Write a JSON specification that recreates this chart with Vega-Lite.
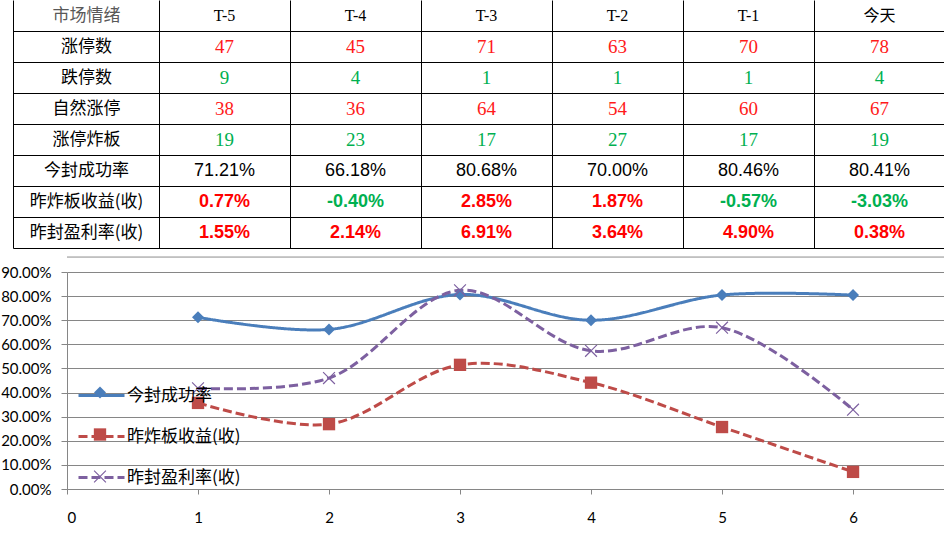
{
  "$schema": "https://vega.github.io/schema/vega-lite/v6.json",
  "padding": 0,
  "spacing": 24,
  "bounds": "flush",
  "background": "white",
  "config": {"view": {"stroke": null}},
  "datasets": {
    "table": [
      {"r": "涨停数", "c": "T-5", "t": "47"}, {"r": "涨停数", "c": "T-4", "t": "45"}, {"r": "涨停数", "c": "T-3", "t": "71"},
      {"r": "涨停数", "c": "T-2", "t": "63"}, {"r": "涨停数", "c": "T-1", "t": "70"}, {"r": "涨停数", "c": "今天", "t": "78"},
      {"r": "跌停数", "c": "T-5", "t": "9"}, {"r": "跌停数", "c": "T-4", "t": "4"}, {"r": "跌停数", "c": "T-3", "t": "1"},
      {"r": "跌停数", "c": "T-2", "t": "1"}, {"r": "跌停数", "c": "T-1", "t": "1"}, {"r": "跌停数", "c": "今天", "t": "4"},
      {"r": "自然涨停", "c": "T-5", "t": "38"}, {"r": "自然涨停", "c": "T-4", "t": "36"}, {"r": "自然涨停", "c": "T-3", "t": "64"},
      {"r": "自然涨停", "c": "T-2", "t": "54"}, {"r": "自然涨停", "c": "T-1", "t": "60"}, {"r": "自然涨停", "c": "今天", "t": "67"},
      {"r": "涨停炸板", "c": "T-5", "t": "19"}, {"r": "涨停炸板", "c": "T-4", "t": "23"}, {"r": "涨停炸板", "c": "T-3", "t": "17"},
      {"r": "涨停炸板", "c": "T-2", "t": "27"}, {"r": "涨停炸板", "c": "T-1", "t": "17"}, {"r": "涨停炸板", "c": "今天", "t": "19"},
      {"r": "今封成功率", "c": "T-5", "t": "71.21%"}, {"r": "今封成功率", "c": "T-4", "t": "66.18%"}, {"r": "今封成功率", "c": "T-3", "t": "80.68%"},
      {"r": "今封成功率", "c": "T-2", "t": "70.00%"}, {"r": "今封成功率", "c": "T-1", "t": "80.46%"}, {"r": "今封成功率", "c": "今天", "t": "80.41%"},
      {"r": "昨炸板收益(收)", "c": "T-5", "t": "0.77%"}, {"r": "昨炸板收益(收)", "c": "T-4", "t": "-0.40%"}, {"r": "昨炸板收益(收)", "c": "T-3", "t": "2.85%"},
      {"r": "昨炸板收益(收)", "c": "T-2", "t": "1.87%"}, {"r": "昨炸板收益(收)", "c": "T-1", "t": "-0.57%"}, {"r": "昨炸板收益(收)", "c": "今天", "t": "-3.03%"},
      {"r": "昨封盈利率(收)", "c": "T-5", "t": "1.55%"}, {"r": "昨封盈利率(收)", "c": "T-4", "t": "2.14%"}, {"r": "昨封盈利率(收)", "c": "T-3", "t": "6.91%"},
      {"r": "昨封盈利率(收)", "c": "T-2", "t": "3.64%"}, {"r": "昨封盈利率(收)", "c": "T-1", "t": "4.90%"}, {"r": "昨封盈利率(收)", "c": "今天", "t": "0.38%"}
    ],
    "header": [
      {"c": "T-5"}, {"c": "T-4"}, {"c": "T-3"}, {"c": "T-2"}, {"c": "T-1"}, {"c": "今天"}
    ],
    "series": [
      {"s": "今封成功率", "x": 1, "v": 0.7121}, {"s": "今封成功率", "x": 2, "v": 0.6618}, {"s": "今封成功率", "x": 3, "v": 0.8068},
      {"s": "今封成功率", "x": 4, "v": 0.7000}, {"s": "今封成功率", "x": 5, "v": 0.8046}, {"s": "今封成功率", "x": 6, "v": 0.8041},
      {"s": "昨炸板收益(收)", "x": 1, "v": 0.357}, {"s": "昨炸板收益(收)", "x": 2, "v": 0.269}, {"s": "昨炸板收益(收)", "x": 3, "v": 0.515},
      {"s": "昨炸板收益(收)", "x": 4, "v": 0.441}, {"s": "昨炸板收益(收)", "x": 5, "v": 0.257}, {"s": "昨炸板收益(收)", "x": 6, "v": 0.071},
      {"s": "昨封盈利率(收)", "x": 1, "v": 0.418}, {"s": "昨封盈利率(收)", "x": 2, "v": 0.460}, {"s": "昨封盈利率(收)", "x": 3, "v": 0.824},
      {"s": "昨封盈利率(收)", "x": 4, "v": 0.573}, {"s": "昨封盈利率(收)", "x": 5, "v": 0.669}, {"s": "昨封盈利率(收)", "x": 6, "v": 0.329}
    ],
    "frame": [{"top": 0.962}]
  },
  "vconcat": [
    {
      "width": 878,
      "height": 248,
      "data": {"name": "table"},
      "encoding": {
        "x": {
          "field": "c", "type": "nominal", "bandPosition": 0.5,
          "scale": {"type": "band", "domain": ["T-5", "T-4", "T-3", "T-2", "T-1", "今天"], "paddingInner": 0, "paddingOuter": 0.3512, "align": 1},
          "axis": {"title": null, "grid": true, "gridColor": "black", "gridWidth": 1, "bandPosition": 0, "labels": false, "ticks": false, "domain": false}
        },
        "y": {
          "field": "r", "type": "nominal", "bandPosition": 0.5,
          "scale": {"type": "band", "domain": ["市场情绪", "涨停数", "跌停数", "自然涨停", "涨停炸板", "今封成功率", "昨炸板收益(收)", "昨封盈利率(收)"], "paddingInner": 0, "paddingOuter": 0},
          "axis": {
            "title": null, "offset": 54, "tickSize": -146, "tickColor": "black", "tickWidth": 1,
            "domainColor": "black", "domainWidth": 1,
            "labelPadding": 73, "labelAlign": "center", "labelBaseline": "middle",
            "bandPosition": 1,
            "grid": true, "gridColor": "black", "gridWidth": 1,
            "labelFont": "Noto Sans CJK SC", "labelFontSize": 17, "labelLimit": 200,
            "labelColor": {"condition": {"test": "datum.value === '市场情绪'", "value": "#595959"}, "value": "black"}
          }
        }
      },
      "layer": [
        {
          "data": {"name": "header"},
          "mark": {"type": "text", "font": "Liberation Serif, Noto Sans CJK SC", "fontSize": 16, "color": "black", "baseline": "middle", "align": "center"},
          "encoding": {
            "y": {"datum": "市场情绪", "type": "nominal", "bandPosition": 0.5},
            "text": {"field": "c", "type": "nominal"}
          }
        },
        {
          "transform": [{"filter": {"field": "r", "oneOf": ["涨停数", "跌停数", "自然涨停", "涨停炸板"]}}],
          "mark": {"type": "text", "font": "Liberation Serif", "fontSize": 19, "baseline": "middle", "align": "center"},
          "encoding": {
            "text": {"field": "t", "type": "nominal"},
            "color": {"condition": {"test": "datum.r === '跌停数' || datum.r === '涨停炸板'", "value": "#00b050"}, "value": "#ff1a1a"}
          }
        },
        {
          "transform": [{"filter": {"field": "r", "equal": "今封成功率"}}],
          "mark": {"type": "text", "font": "Liberation Sans", "fontSize": 18, "baseline": "middle", "align": "center", "color": "black"},
          "encoding": {
            "text": {"field": "t", "type": "nominal"}
          }
        },
        {
          "transform": [{"filter": {"field": "r", "oneOf": ["昨炸板收益(收)", "昨封盈利率(收)"]}}],
          "mark": {"type": "text", "font": "Liberation Sans", "fontSize": 18, "fontWeight": "bold", "baseline": "middle", "align": "center"},
          "encoding": {
            "text": {"field": "t", "type": "nominal"},
            "color": {"condition": {"test": "indexof(datum.t, '-') === 0", "value": "#00b050"}, "value": "#ff0000"}
          }
        }
      ]
    },
    {
      "width": 878,
      "height": 217,
      "data": {"name": "series"},
      "encoding": {
        "x": {
          "field": "x", "type": "quantitative",
          "scale": {"domain": [0, 6.702], "nice": false, "zero": false},
          "axis": {"title": null, "values": [0, 1, 2, 3, 4, 5, 6], "format": "d", "grid": false,
                   "domainColor": "#868686", "tickColor": "#868686", "tickSize": 5, "labelPadding": 16,
                   "labelFont": "Lato", "labelFontSize": 15, "labelColor": "black"}
        },
        "y": {
          "field": "v", "type": "quantitative",
          "scale": {"domain": [0, 0.9], "nice": false},
          "axis": {"title": null, "values": [0, 0.1, 0.2, 0.3, 0.4, 0.5, 0.6, 0.7, 0.8, 0.9], "format": ".2%",
                   "grid": true, "gridColor": "#868686", "gridWidth": 1,
                   "domainColor": "#868686", "tickColor": "#868686", "tickSize": 6, "labelPadding": 10,
                   "labelFont": "Lato", "labelFontSize": 15, "labelColor": "black"}
        }
      },
      "layer": [
        {
          "data": {"name": "frame"},
          "mark": {"type": "rule", "color": "#8c8c8c", "strokeWidth": 1},
          "encoding": {"x": null, "y": {"field": "top", "type": "quantitative"}}
        },
        {
          "mark": {"type": "line", "interpolate": "catmull-rom", "strokeWidth": 3},
          "encoding": {
            "color": {
              "field": "s", "type": "nominal",
              "scale": {"domain": ["今封成功率", "昨炸板收益(收)", "昨封盈利率(收)"], "range": ["#4a7ebb", "#be4b48", "#7d60a0"]},
              "legend": {"title": null, "orient": "none", "legendX": 10, "legendY": 99, "padding": 0,
                         "symbolType": "stroke", "symbolSize": 2116, "symbolStrokeWidth": 3,
                         "labelFont": "Noto Sans CJK SC", "labelFontSize": 17, "labelColor": "black",
                         "labelOffset": 1, "rowPadding": 8}
            },
            "strokeDash": {
              "field": "s", "type": "nominal",
              "scale": {"domain": ["今封成功率", "昨炸板收益(收)", "昨封盈利率(收)"], "range": [[1, 0], [9, 4], [9, 4]]}
            }
          }
        },
        {
          "mark": {"type": "point", "filled": true, "opacity": 1},
          "encoding": {
            "color": {
              "field": "s", "type": "nominal",
              "scale": {"domain": ["今封成功率", "昨炸板收益(收)", "昨封盈利率(收)"], "range": ["#4a7ebb", "#be4b48", "#7d60a0"]},
              "legend": {"title": null, "orient": "none", "legendX": 24.5, "legendY": 112, "padding": 0,
                         "labelExpr": "''", "labelFontSize": 17, "labelOffset": 0, "rowPadding": 24}
            },
            "shape": {
              "field": "s", "type": "nominal",
              "scale": {"domain": ["今封成功率", "昨炸板收益(收)", "昨封盈利率(收)"],
                        "range": ["diamond", "square", "M-0.87,-1L0,-0.13L0.87,-1L1,-0.87L0.13,0L1,0.87L0.87,1L0,0.13L-0.87,1L-1,0.87L-0.13,0L-1,-0.87Z"]}
            },
            "size": {
              "field": "s", "type": "nominal",
              "scale": {"domain": ["今封成功率", "昨炸板收益(收)", "昨封盈利率(收)"], "range": [144, 160, 169]}
            }
          }
        }
      ],
      "resolve": {"legend": {"color": "independent", "strokeDash": "independent", "shape": "independent", "size": "independent"}}
    }
  ]
}
